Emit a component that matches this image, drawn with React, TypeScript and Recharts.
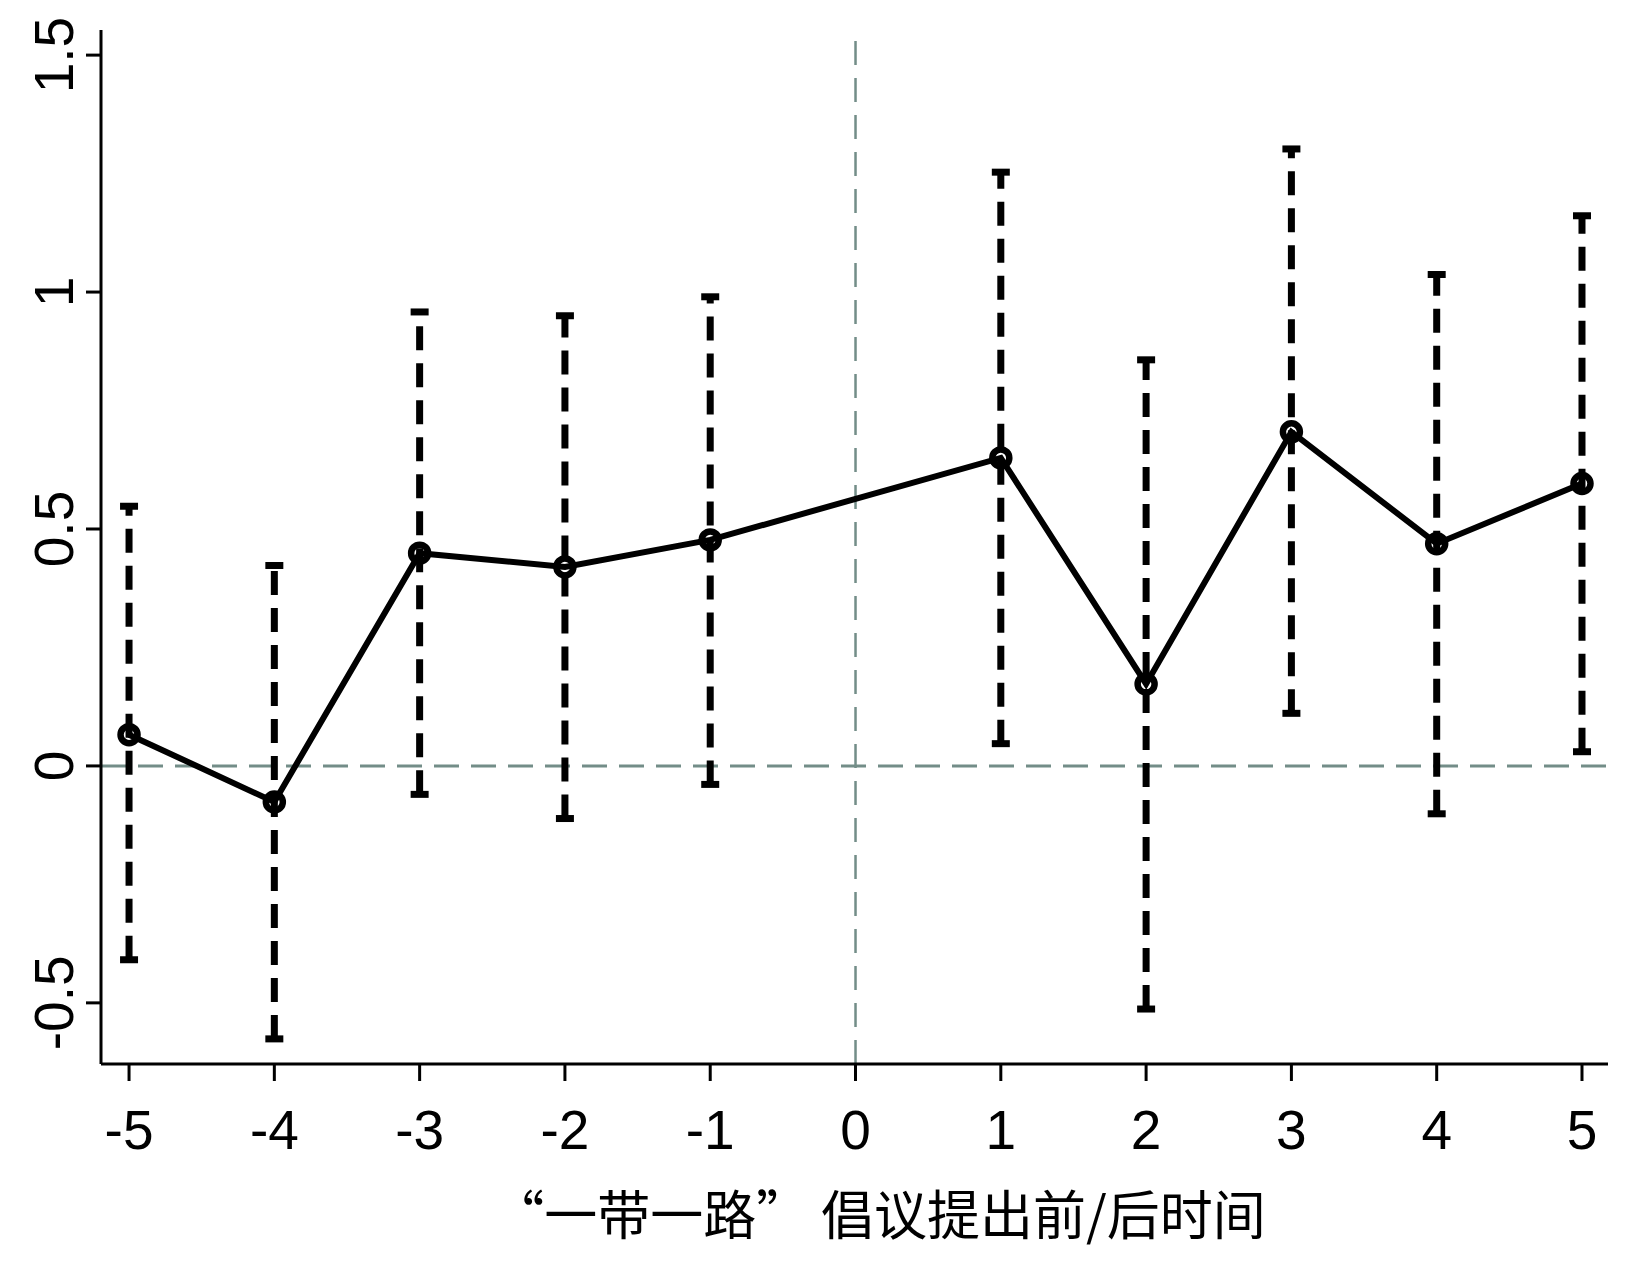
import React from 'react';
import { ComposedChart, Line, XAxis, YAxis, ReferenceLine, ErrorBar, Label } from 'recharts';

const periods = [-5, -4, -3, -2, -1, 1, 2, 3, 4, 5];
const estimates = [0.066, -0.076, 0.449, 0.42, 0.477, 0.65, 0.173, 0.705, 0.469, 0.596];
const ciLow = [-0.409, -0.576, -0.06, -0.111, -0.039, 0.047, -0.513, 0.111, -0.101, 0.03];
const ciHigh = [0.548, 0.423, 0.958, 0.95, 0.99, 1.253, 0.857, 1.302, 1.037, 1.161];
const xTicks = [-5, -4, -3, -2, -1, 0, 1, 2, 3, 4, 5];
const yTicks = [-0.5, 0, 0.5, 1, 1.5];
const xTitle = '“一带一路” 倡议提出前/后时间';

const data = periods.map((p, i) => ({
  period: p,
  est: estimates[i],
  err: [estimates[i] - ciLow[i], ciHigh[i] - estimates[i]],
}));

const FONT = '"Liberation Sans", Arial, Helvetica, sans-serif';
const REF = '#738d88';

const YTick = (props: any) => {
  const { x, y, payload } = props;
  const bx = x - 11;
  return (
    <text
      x={bx}
      y={y}
      transform={`rotate(-90 ${bx} ${y})`}
      textAnchor="middle"
      fontFamily={FONT}
      fontSize={55}
      fill="#000"
    >
      {String(payload.value)}
    </text>
  );
};

const XTick = (props: any) => {
  const { x, y, payload } = props;
  return (
    <text x={x} y={y + 66} textAnchor="middle" fontFamily={FONT} fontSize={55} fill="#000">
      {String(payload.value)}
    </text>
  );
};

const renderTitle = (props: any) => {
  const vb = props.viewBox || {};
  const cx = (vb.x ?? 93) + (vb.width ?? 1507) / 2 + 24;
  const top = vb.y ?? 1056;
  return (
    <text
      x={cx}
      y={top + 171}
      textAnchor="middle"
      fontFamily='"Noto Sans CJK SC", sans-serif'
      fontSize={53}
      fill="#000"
    >
      {xTitle}
    </text>
  );
};

export default function App() {
  return (
    <div style={{ width: 1615, height: 1248, background: '#fff' }}>
      <ComposedChart
        width={1615}
        height={1248}
        data={data}
        margin={{ top: 22, right: 15, bottom: 0, left: 0 }}
      >
        <XAxis
          dataKey="period"
          type="number"
          domain={[-5.193, 5.179]}
          allowDataOverflow
          ticks={xTicks}
          interval={0}
          height={192}
          tickSize={17}
          axisLine={{ stroke: '#000', strokeWidth: 3 }}
          tickLine={{ stroke: '#000', strokeWidth: 3 }}
          tick={<XTick />}
        >
          <Label content={renderTitle} />
        </XAxis>
        <YAxis
          type="number"
          domain={[-0.629, 1.553]}
          allowDataOverflow
          ticks={yTicks}
          interval={0}
          width={93}
          tickSize={15}
          axisLine={{ stroke: '#000', strokeWidth: 3 }}
          tickLine={{ stroke: '#000', strokeWidth: 3 }}
          tick={<YTick />}
        />
        <ReferenceLine y={0} stroke={REF} strokeWidth={3} strokeDasharray="25 12" />
        <ReferenceLine x={0} stroke={REF} strokeWidth={2.5} strokeDasharray="24 13" />
        <Line
          dataKey="est"
          type="linear"
          stroke="#000"
          strokeWidth={6}
          dot={{ r: 8.5, stroke: '#000', strokeWidth: 6.5, fill: 'none' }}
          activeDot={false}
          isAnimationActive={false}
        >
          <ErrorBar
            dataKey="err"
            direction="y"
            width={9}
            stroke="#000"
            strokeWidth={7}
            strokeDasharray="24 13"
            isAnimationActive={false}
          />
        </Line>
      </ComposedChart>
    </div>
  );
}
